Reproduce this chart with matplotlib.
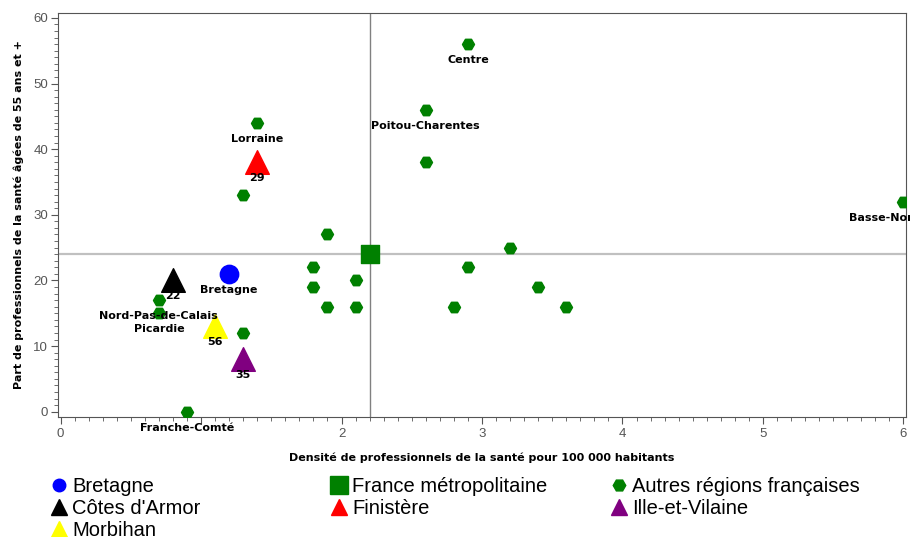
import matplotlib.pyplot as plt
from matplotlib.lines import Line2D
from matplotlib.ticker import MultipleLocator

plt.rcParams['font.family'] = ['Liberation Sans', 'DejaVu Sans']

# Autres régions françaises
autres_x = [2.9, 2.6, 2.6, 1.4, 1.3, 1.9, 6.0, 3.2, 2.9, 1.8, 1.8,
            1.9, 2.1, 2.1, 2.8, 3.4, 3.6, 0.7, 0.7, 0.9, 1.3]
autres_y = [56, 46, 38, 44, 33, 27, 32, 25, 22, 22, 19,
            16, 20, 16, 16, 19, 16, 17, 15, 0, 12]
autres_lab = ['Centre', 'Poitou-Charentes', '', 'Lorraine', '', '', 'Basse-Normandie', '', '', '', '',
              '', '', '', '', '', '', 'Nord-Pas-de-Calais', 'Picardie', 'Franche-Comté', '']

# Bretagne et France
bretagne = (1.2, 21)
france = (2.2, 24)

# départements
dep_names = ["Côtes d'Armor", 'Finistère', 'Ille-et-Vilaine', 'Morbihan']
dep_codes = ['22', '29', '35', '56']
dep_x = [0.8, 1.4, 1.3, 1.1]
dep_y = [20, 38, 8, 13]
dep_colors = ['black', 'red', 'purple', 'yellow']

# x tick labels ("1" is hidden under the Franche-Comté label)
xticks = [0, 1, 2, 3, 4, 5, 6]
xtick_labels = ['0', '', '2', '3', '4', '5', '6']

fig = plt.figure(figsize=(9.1, 5.37), dpi=100)
ax = fig.add_axes([58/910, 1 - 416.7/537, (906-58)/910, (416.7-13.3)/537])

# reference lines
ax.axvline(france[0], color='#808080', lw=1, zorder=1)
ax.axhline(france[1], color='#c0c0c0', lw=1.6, zorder=1)

ax.scatter(autres_x, autres_y, marker='H', s=75, color='green', zorder=3)
ax.scatter([bretagne[0]], [bretagne[1]], marker='o', s=175, color='blue', zorder=3)
ax.scatter([france[0]], [france[1]], marker='s', s=150, color='green', zorder=3)
for x, y, c in zip(dep_x, dep_y, dep_colors):
    ax.scatter([x], [y], marker='^', s=290, color=c, zorder=4)

lab_kw = dict(textcoords='offset points', xytext=(0, -11.5), ha='center', va='center',
              fontsize=8, fontweight='bold', family='DejaVu Sans', zorder=5)
for x, y, t in zip(autres_x, autres_y, autres_lab):
    if t:
        a = ax.annotate(t, (x, y), **lab_kw)
        # Franche-Comté sits below the axes
        a.set_clip_on(t != 'Franche-Comté')
ax.annotate('Bretagne', bretagne, **lab_kw)
for x, y, t in zip(dep_x, dep_y, dep_codes):
    ax.annotate(t, (x, y), **lab_kw)

ax.set_xlim(-0.018, 6.018)
ax.set_ylim(-0.76, 60.7)
ax.set_xticks(xticks, labels=xtick_labels)
ax.xaxis.set_minor_locator(MultipleLocator(0.1))
ax.yaxis.set_major_locator(MultipleLocator(10))
ax.yaxis.set_minor_locator(MultipleLocator(1))
ax.tick_params(which='major', length=5, color='#555555', labelcolor='#555555', labelsize=9.5)
ax.tick_params(which='minor', length=3, color='#555555')
ax.tick_params(axis='x', pad=3)
ax.tick_params(axis='y', pad=2)
for s in ax.spines.values():
    s.set_color('#555555')

ax.set_xlabel('Densité de professionnels de la santé pour 100 000 habitants',
              fontsize=8, fontweight='bold', family='DejaVu Sans', labelpad=9)
ax.set_ylabel('Part de professionnels de la santé âgées de 55 ans et +',
              fontsize=8, fontweight='bold', family='DejaVu Sans', labelpad=7)

# legend in three columns, filled row by row
def h(marker, color, ms):
    return Line2D([], [], marker=marker, color=color, ls='none', markersize=ms)

cols = [
    ([h('o', 'blue', 9), h('^', 'black', 12), h('^', 'yellow', 12)],
     ['Bretagne', dep_names[0], dep_names[3]], 51),
    ([h('s', 'green', 13), h('^', 'red', 12)],
     ['France métropolitaine', dep_names[1]], 331),
    ([h('H', 'green', 9), h('^', 'purple', 12)],
     ['Autres régions françaises', dep_names[2]], 611),
]
for handles, labels, xpix in cols:
    fig.legend(handles, labels, loc='upper left', bbox_to_anchor=(xpix/910, 1 - 477/537),
               frameon=False, fontsize=14.5, handlelength=0.8, handletextpad=0.25,
               labelspacing=0.16, borderpad=0, borderaxespad=0)

fig.savefig('out.png', dpi=100)
